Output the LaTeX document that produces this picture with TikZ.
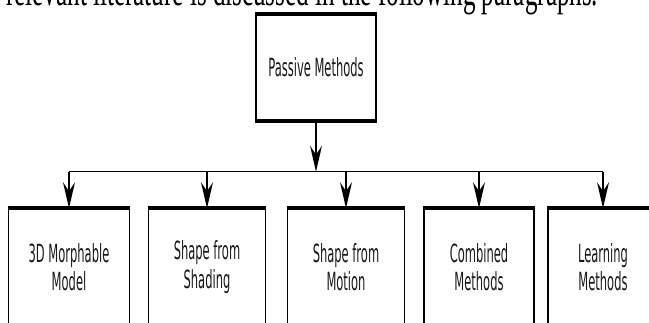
\documentclass[tikz,border=0pt]{standalone}
\usepackage{fontspec}
\usetikzlibrary{positioning, calc, arrows.meta}
\newfontfamily\boxfont[FakeStretch=0.46]{DejaVu Sans}
\newfontfamily\parafont[FakeStretch=0.57]{Liberation Serif}

\begin{document}
\begin{tikzpicture}[x=1pt, y=-1pt,
    methodbox/.style={draw, line width=1.6pt, inner sep=0pt, align=center,
      minimum width=117pt, minimum height=116pt, text=black!90,
      font=\boxfont\fontsize{25}{28.3}\selectfont},
    rootbox/.style={methodbox, minimum width=120pt, minimum height=105.5pt},
    arrowline/.style={line width=1.6pt, -{Stealth[length=26pt, width=12pt, inset=9pt]}}]
  \useasboundingbox (0,0) rectangle (649,323);
  \node[anchor=base west, inner sep=0pt, font=\parafont\fontsize{44}{44}\selectfont] (para) at (6,6)
    {relevant literature is discussed in the following paragraphs.};
  \node[rootbox] (passive) at (316,67.3) {Passive Methods};
  \node[methodbox, minimum width=121pt] (morph) at (69,267) {3D Morphable\\Model};
  \node[methodbox] (shading) at (207,267) {Shape from\\Shading};
  \node[methodbox] (motion) at (346,267) {Shape from\\Motion};
  \node[methodbox, minimum width=110pt] (combined) at (479,267) {Combined\\Methods};
  \node[methodbox, minimum width=110pt] (learning) at (603,267) {Learning\\Methods};
  \coordinate (bus) at (316,171.7);
  \draw[arrowline] (passive) -- (bus);
  \draw[line width=1.6pt] (morph.north |- bus) -- (learning.north |- bus);
  \foreach \n in {morph, shading, motion, combined, learning}
    \draw[arrowline] (\n.north |- bus) -- (\n);
  \foreach \n in {passive, morph, shading, motion, combined, learning} {
    \draw[line width=4pt] (\n.north west) -- (\n.north east);
    \draw[line width=4pt] (\n.south west) -- (\n.south east);
  }
\end{tikzpicture}
\end{document}
